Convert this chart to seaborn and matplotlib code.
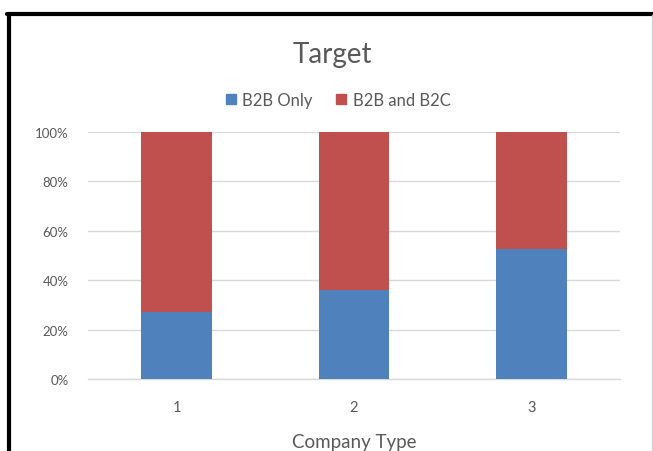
import matplotlib
matplotlib.use("Agg")
import matplotlib.pyplot as plt
import seaborn as sns
import numpy as np
import pandas as pd
from matplotlib.patches import Rectangle
from matplotlib.lines import Line2D
from matplotlib.ticker import FuncFormatter

categories = ["1", "2", "3"]
b2b_only = [27.1, 36.0, 52.8]
b2b_and_b2c = [72.9, 64.0, 47.2]
series_names = ["B2B Only", "B2B and B2C"]
colors = ["#4F81BD", "#C0504D"]

sns.set_theme(style="white")
plt.rcParams["font.family"] = ["Lato", "DejaVu Sans"]

totals = [a + b for a, b in zip(b2b_only, b2b_and_b2c)]
df = pd.DataFrame({"cat": categories, "b2b": b2b_only, "total": totals})

fig = plt.figure(figsize=(6.53, 4.52), dpi=100)
ax = fig.add_axes([88 / 653, 72 / 452, 532 / 653, 247 / 452])

sns.barplot(data=df, x="cat", y="total", color=colors[1], width=0.4, ax=ax,
            saturation=1, edgecolor="none", zorder=3)
sns.barplot(data=df, x="cat", y="b2b", color=colors[0], width=0.4, ax=ax,
            saturation=1, edgecolor="none", zorder=3)

ax.set_xlim(-0.5, 2.5)
ax.set_ylim(0, 100)
ax.set_yticks([0, 20, 40, 60, 80, 100])
ax.yaxis.set_major_formatter(FuncFormatter(lambda v, p: f"{int(v)}%"))
ax.grid(axis="y", color="#D9D9D9", linewidth=1.0, zorder=0)
ax.grid(axis="x", visible=False)
for s in ["top", "right", "left"]:
    ax.spines[s].set_visible(False)
ax.spines["bottom"].set_color("#D9D9D9")
ax.spines["bottom"].set_linewidth(1.0)
ax.tick_params(axis="both", length=0, colors="#595959")
ax.tick_params(axis="y", pad=14, labelsize=9.5)
ax.tick_params(axis="x", pad=15, labelsize=10.5)
ax.set_ylabel("")
ax.set_xlabel("Company Type", color="#595959", fontsize=13.5, labelpad=13.5)

fig.text(332 / 653, 1 - 55 / 452, "Target", ha="center", va="center",
         fontsize=20, color="#595959")

handles = [Rectangle((0, 0), 1, 1, color=c) for c in colors]
fig.legend(handles, series_names, loc="center", bbox_to_anchor=(338 / 653, 1 - 101 / 452),
           ncol=2, frameon=False, fontsize=12, handlelength=0.6, handleheight=0.6,
           handletextpad=0.4, columnspacing=1.4, labelcolor="#595959")

# screenshot border
fig.add_artist(Line2D([7 / 653, 1], [1 - 15 / 452, 1 - 15 / 452], color="black", linewidth=3,
                      transform=fig.transFigure))
fig.add_artist(Line2D([8.5 / 653, 8.5 / 653], [0, 1 - 15 / 452], color="black", linewidth=3,
                      transform=fig.transFigure))
fig.add_artist(Line2D([651.5 / 653, 651.5 / 653], [0, 1 - 16 / 452], color="#D0D0D0", linewidth=1,
                      transform=fig.transFigure))

fig.savefig("out.png", dpi=100)
